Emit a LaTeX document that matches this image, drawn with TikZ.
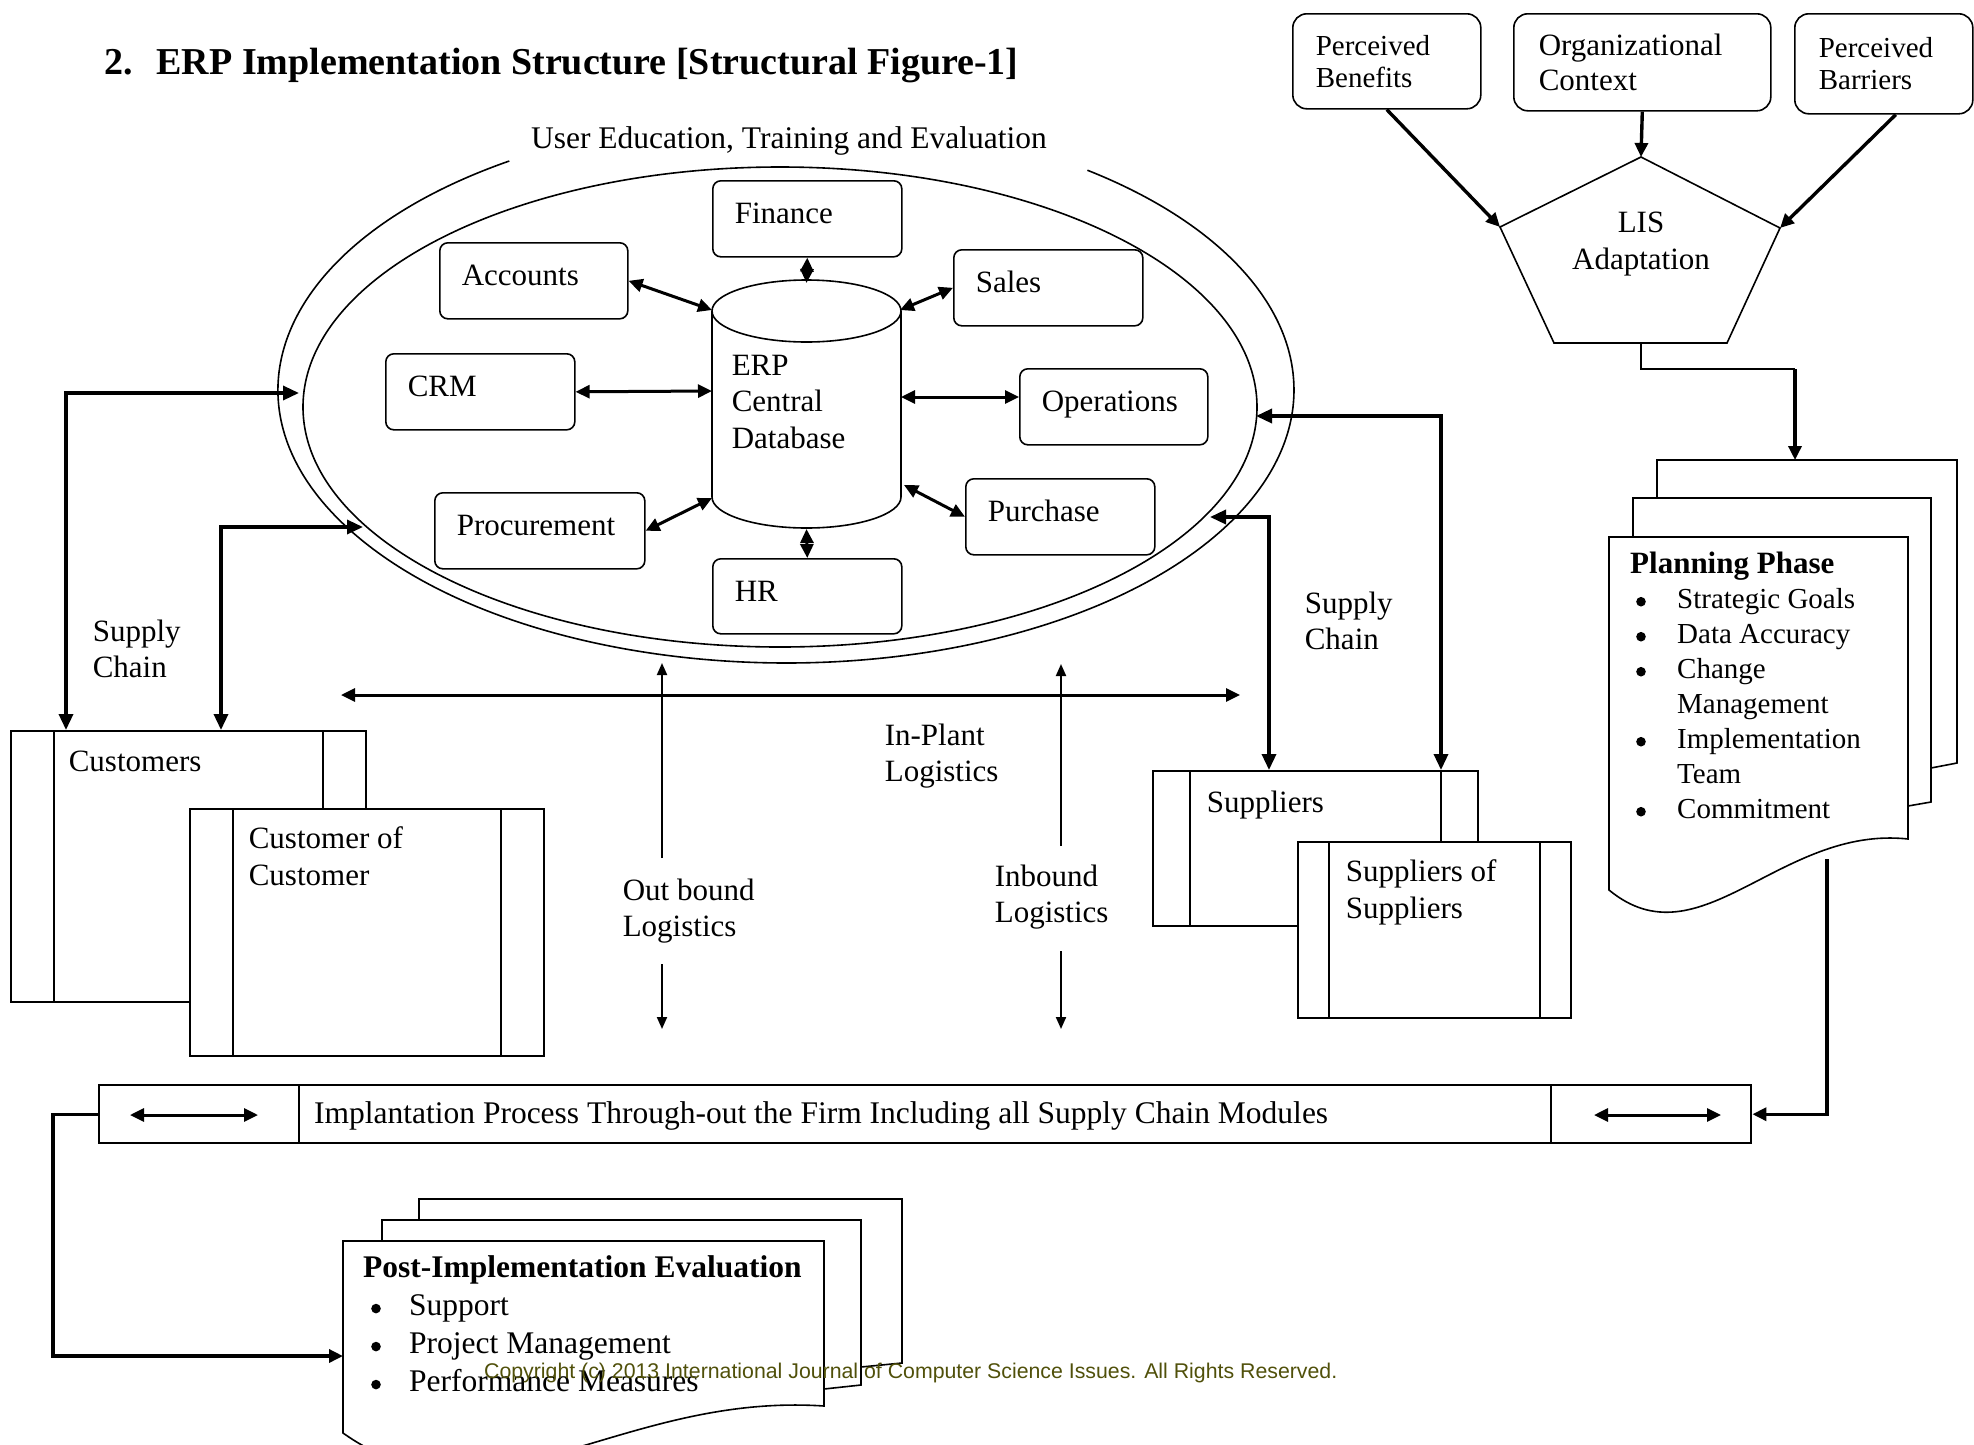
\documentclass[tikz,border=0pt]{standalone}
\usepackage{fontspec}
\setmainfont{Liberation Serif}
\newfontfamily\copyfont{Liberation Sans}
\usetikzlibrary{positioning, calc, shapes.geometric, arrows.meta}
\definecolor{copyolive}{RGB}{80,80,10}
\newcommand\pbul[1]{\makebox[#1][l]{\tikz[baseline=-7pt]\fill (0,0) circle[radius=4.8pt];}}

\tikzset{
  mod/.style={draw, rounded corners=8, minimum height=76, inner xsep=22, align=left, anchor=north west,
    text height=22, text depth=12},
  top/.style={draw, rounded corners=14, align=left, anchor=north west, font=\fontsize{29}{32}\selectfont},
  proc/.style={draw, fill=white, inner sep=0, anchor=north west,
    path picture={\draw[line width=1.6]
      ([xshift=#1]path picture bounding box.north west) -- ([xshift=#1]path picture bounding box.south west)
      ([xshift=-#1]path picture bounding box.north east) -- ([xshift=-#1]path picture bounding box.south east);}},
  txt/.style={inner sep=0, align=left, anchor=north west},
  dbl/.style={line width=3, <->},
  sc/.style={line width=3.4, <->, >={Triangle[length=16pt,width=14pt]}},
  one/.style={line width=3.4, ->},
  thin/.style={line width=2, ->, >={Triangle[length=12pt,width=10pt]}}
}

\begin{document}
\begin{tikzpicture}[x=1pt, y=-1pt, line width=1.6,
  >={Triangle[length=14pt,width=13pt]},
  every node/.style={font=\fontsize{31}{36.5}\selectfont}]

\useasboundingbox (0,0) rectangle (1974,1444);

\node[anchor=west, font=\fontsize{38}{42}\selectfont\bfseries] (title) at (100,66)
  {2.\hspace{24pt}ERP Implementation Structure [Structural Figure-1]};

% adaptation part
\node[top, text width=142, inner xsep=23, minimum height=95] (ben) at (1292,13) {Perceived\\Benefits};
\node[top, text width=207, inner xsep=25, minimum height=97, font=\fontsize{31}{35}\selectfont] (org) at (1513,13) {Organizational\\Context};
\node[top, text width=130, inner xsep=24, minimum height=100] (barr) at (1794,13) {Perceived\\Barriers};

\coordinate (p_t) at (1641,157);
\coordinate (p_l) at (1500,227);
\coordinate (p_r) at (1780,228);
\coordinate (p_b) at (1641,343);
\draw (p_t) -- (p_r) -- (1727,343) -- (1554,343) -- (p_l) -- cycle;
\node[align=center] (lis) at (1641,244) {LIS\\Adaptation};

\draw[one] (ben.south) -- (p_l);
\draw[one] (org.south) -- (p_t);
\draw[one] ([xshift=12pt]barr.south) -- (p_r);

% planning phase pages
\coordinate (pf) at (1609,537);
\draw (1657,498) |- (1957,460) -- (1957,763) -- (1931,768);
\draw (1633,537) |- (1931,498) -- (1931,802) -- (1908,806);
\draw (pf) -- (1908,537) -- (1908,839) .. controls (1780,825) and (1700,965) .. (1609,890) -- cycle;
\node[txt, below right=15pt and 21pt of pf, font=\fontsize{29}{35}\selectfont] (plan_t)
  {{\fontsize{31}{35}\selectfont\bfseries Planning Phase}\\
   \hspace*{6pt}\pbul{41pt}Strategic Goals\\
   \hspace*{6pt}\pbul{41pt}Data Accuracy\\
   \hspace*{6pt}\pbul{41pt}Change\\
   \hspace*{47pt}Management\\
   \hspace*{6pt}\pbul{41pt}Implementation\\
   \hspace*{47pt}Team\\
   \hspace*{6pt}\pbul{41pt}Commitment};

\coordinate (plan_in) at (1795,460);
\draw (p_b) |- (1795,369) coordinate (turn);
\draw[one] (turn) -- (plan_in);

% ERP core
\node[font=\fontsize{31.5}{36}\selectfont] (ue_t) at (789,141) {User Education, Training and Evaluation};
\draw (509.3,161) arc[start angle=123, end angle=413.6, x radius=508pt, y radius=273pt];
\node[draw, ellipse, minimum width=954, minimum height=480, inner sep=0] (erp) at (780,407) {};

\draw (712,311) -- (712,497) arc[start angle=180, end angle=360, x radius=94.5pt, y radius=31pt] -- (901,311);
\draw (806.5,311) ellipse [x radius=94.5pt, y radius=31pt];
\node[txt] (db) at (731,354) {ERP\\Central\\Database};

\node[mod, text width=145] (fin) at (712,180) {Finance};
\node[mod, text width=144] (acc) at (439,242) {Accounts};
\node[mod, text width=145] (sal) at (953,249) {Sales};
\node[mod, text width=145] (crm) at (385,353) {CRM};
\node[mod, text width=144] (ops) at (1019,368) {Operations};
\node[mod, text width=166] (pro) at (434,492) {Procurement};
\node[mod, text width=145] (pur) at (965,478) {Purchase};
\node[mod, text width=145, minimum height=75] (hr) at (712,558) {HR};

\coordinate (db_n) at (806.5,283);
\coordinate (db_nw) at (712,310);
\coordinate (db_ne) at (900,310);
\coordinate (db_w) at (712,391);
\coordinate (db_e) at (901,397);
\coordinate (db_sw) at (712,498);
\coordinate (db_se) at (904,485);
\coordinate (db_s) at (806.5,529);

\draw[dbl] (fin.south) -- (db_n);
\draw[dbl] (acc.east) -- (db_nw);
\draw[dbl] (sal.west) -- (db_ne);
\draw[dbl] (crm.east) -- (db_w);
\draw[dbl] (db_e) -- (db_e -| ops.west);
\draw[dbl] (pro.east) -- (db_sw);
\draw[dbl] (pur.west) -- (db_se);
\draw[dbl] (db_s) -- (hr.north);

% customers and suppliers
\node[proc=43pt, minimum width=355, minimum height=271] (cust) at (10,730) {};
\node[txt, below right=20pt and 58pt of cust.north west] (cust_t) {Customers};
\node[proc=43pt, minimum width=354, minimum height=247] (coc) at (189,808) {};
\node[txt, below right=18pt and 59pt of coc.north west] (coc_t) {Customer of\\Customer};

\node[proc=37pt, minimum width=325, minimum height=155] (sup) at (1152,770) {};
\node[txt, below right=20pt and 54pt of sup.north west] (sup_t) {Suppliers};
\node[proc=31pt, minimum width=273, minimum height=176] (sos) at (1297,841) {};
\node[txt, below right=18pt and 48pt of sos.north west] (sos_t) {Suppliers of\\Suppliers};

\node[txt] (sc_lt) at (92,619) {Supply\\Chain};
\node[txt] (sc_rt) at (1304,591) {Supply\\Chain};

\coordinate (sc_l1) at (299,393);
\coordinate (sc_l2) at (363,527);
\coordinate (sc_r1) at (1256,416);
\coordinate (sc_r2) at (1210,517);
\draw[sc] (sc_l1) -| ([xshift=56pt]cust.north west);
\draw[sc] (sc_l2) -| ([xshift=211pt]cust.north west);
\draw[sc] (sc_r1) -| ([xshift=289pt]sup.north west);
\draw[sc] (sc_r2) -| ([xshift=117pt]sup.north west);

% logistics
\coordinate (ip_l) at (341,695);
\coordinate (ip_r) at (1240,695);
\coordinate (ob_1) at (662,858);
\coordinate (ob_2) at (662,663);
\coordinate (ob_3) at (662,964);
\coordinate (ob_4) at (662,1029);
\coordinate (ib_1) at (1061,846);
\coordinate (ib_2) at (1061,664);
\coordinate (ib_3) at (1061,951);
\coordinate (ib_4) at (1061,1029);
\draw[dbl] (ip_l) -- (ip_r);
\draw[thin] (ob_1) -- (ob_2);
\draw[thin] (ob_3) -- (ob_4);
\draw[thin] (ib_1) -- (ib_2);
\draw[thin] (ib_3) -- (ib_4);
\node[txt] (ip_t) at (884,723) {In-Plant\\Logistics};
\node[txt] (ob_t) at (622,878) {Out bound\\Logistics};
\node[txt] (ib_t) at (994,864) {Inbound\\Logistics};

% implementation bar
\node[proc=200pt, line width=2.4, minimum width=1652, minimum height=58] (impl) at (98,1084) {};
\node[anchor=west, font=\fontsize{31.5}{36}\selectfont] (impl_t) at (310,1116)
  {Implantation Process Through-out the Firm Including all Supply Chain Modules};
\coordinate (im_1) at (130,1115);
\coordinate (im_2) at (258,1115);
\coordinate (im_3) at (1594,1115);
\coordinate (im_4) at (1721,1115);
\draw[dbl] (im_1) -- (im_2);
\draw[dbl] (im_3) -- (im_4);

\coordinate (plan_out) at (1827,859);
\draw[one] (plan_out) |- (impl.east);

% post implementation pages
\coordinate (qf) at (343,1241);
\coordinate (post_in) at (343,1356);
\draw (419,1220) |- (902,1199) -- (902,1363) -- (861,1367);
\draw (382,1241) |- (861,1220) -- (861,1385) -- (824,1389);
\draw (qf) -- (824,1241) -- (824,1406) .. controls (617,1392) and (487,1535) .. (343,1433) -- cycle;
\node[txt, below right=14.5pt and 20pt of qf, font=\fontsize{31.5}{38}\selectfont] (post_t)
  {{\bfseries Post-Implementation Evaluation}\\
   \hspace*{8pt}\pbul{38pt}Support\\
   \hspace*{8pt}\pbul{38pt}Project Management\\
   \hspace*{8pt}\pbul{38pt}Performance Measures};
\draw[one] (impl.west) -- ++(-45,0) |- (post_in);

\node[anchor=west, font=\copyfont\fontsize{21.3}{24}\selectfont, text=copyolive] (copy) at (480,1373)
  {Copyright (c) 2013 International Journal of Computer Science Issues. All Rights Reserved.};

\end{tikzpicture}
\end{document}
